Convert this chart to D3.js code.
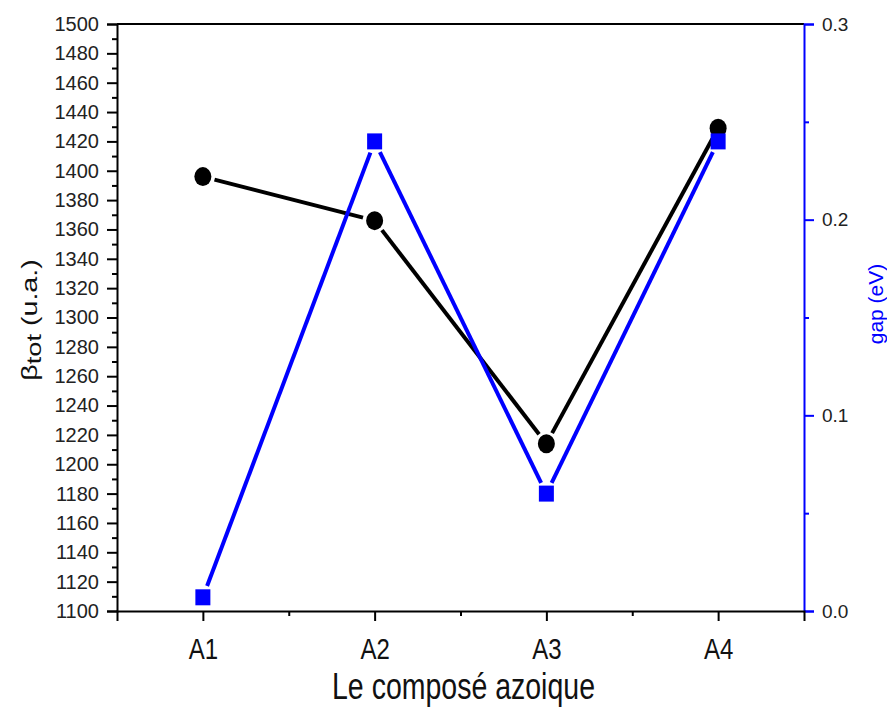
<!DOCTYPE html>
<html>
<head>
<meta charset="utf-8">
<script src="https://cdn.jsdelivr.net/npm/d3@7"></script>
<style>
  body { margin: 0; background: #fff; }
  svg { font-family: "Liberation Sans", Arial, sans-serif; }
</style>
</head>
<body>
<div id="chart"></div>
<script>
// data
const compounds = ["A1", "A2", "A3", "A4"];
const betaTot = [1396, 1366, 1214, 1429];
const gapEv = [0.007, 0.24, 0.06, 0.24];
const betaTicks = d3.range(1100, 1501, 20);
const betaMinor = d3.range(1110, 1500, 20);
const gapTicks = [0, 0.1, 0.2, 0.3];
const gapMinor = [0.05, 0.15, 0.25];
const xMinor = [1.5, 2.5, 3.5];

const width = 887, height = 715;
const margin = { top: 24, right: 83, bottom: 104, left: 117 };
const innerW = width - margin.left - margin.right;
const innerH = height - margin.top - margin.bottom;

const svg = d3.select("#chart").append("svg")
    .attr("width", width)
    .attr("height", height);

const g = svg.append("g")
    .attr("transform", `translate(${margin.left}, ${margin.top})`);

const x = d3.scaleLinear().domain([0.5, compounds.length + 0.5]).range([0, innerW]);
const yL = d3.scaleLinear().domain([1100, 1500]).range([innerH, 0]);
const yR = d3.scaleLinear().domain([0, 0.3]).range([innerH, 0]);

const blue = "#0000ff";

// top frame line
g.append("line")
    .attr("x1", 0).attr("x2", innerW)
    .attr("y1", 0).attr("y2", 0)
    .attr("stroke", "#000").attr("stroke-width", 2);

// left axis
const yAxisL = g.append("g").attr("class", "y-axis-left")
    .call(d3.axisLeft(yL).tickValues(betaTicks).tickSize(10).tickPadding(8).tickFormat(d3.format("d")));
yAxisL.append("g")
    .call(d3.axisLeft(yL).tickValues(betaMinor).tickSize(5).tickFormat(""))
    .call((s) => s.selectAll("text").remove())
    .select(".domain").remove();
yAxisL.selectAll(".domain").attr("stroke-width", 2);
yAxisL.selectAll(".tick line").attr("stroke-width", 2);
yAxisL.selectAll(".tick text")
    .attr("fill", "#222")
    .style("font-size", "20px");

// right axis
const yAxisR = g.append("g").attr("class", "y-axis-right")
    .attr("transform", `translate(${innerW}, 0)`)
    .call(d3.axisRight(yR).tickValues(gapTicks).tickSize(10).tickPadding(8).tickFormat(d3.format(".1f")));
yAxisR.append("g")
    .call(d3.axisRight(yR).tickValues(gapMinor).tickSize(5).tickFormat(""))
    .call((s) => s.selectAll("text").remove())
    .select(".domain").remove();
yAxisR.selectAll(".domain").attr("stroke", blue).attr("stroke-width", 2);
yAxisR.selectAll(".tick line").attr("stroke", blue).attr("stroke-width", 2);
yAxisR.selectAll(".tick text")
    .attr("fill", "#222")
    .style("font-size", "19px");

// bottom axis
const xAxis = g.append("g").attr("class", "x-axis")
    .attr("transform", `translate(0, ${innerH})`)
    .call(d3.axisBottom(x).tickValues(d3.range(1, compounds.length + 1)).tickSize(10)
        .tickFormat((d) => compounds[d - 1]));
xAxis.append("g")
    .call(d3.axisBottom(x).tickValues(xMinor).tickSize(5).tickFormat(""))
    .call((s) => s.selectAll("text").remove())
    .select(".domain").remove();
xAxis.selectAll(".domain").attr("stroke-width", 2);
xAxis.selectAll(".tick line").attr("stroke-width", 2);
xAxis.selectAll(".tick text")
    .attr("fill", "#111")
    .attr("y", 0)
    .attr("dy", 0)
    .style("font-size", "24px")
    .attr("transform", "translate(0, 48) scale(1, 1.2)");

// axis titles
g.append("text")
    .attr("transform", `translate(${innerW / 2 + 3}, ${innerH + 88}) scale(1, 1.3)`)
    .attr("text-anchor", "middle")
    .style("font-size", "28.5px")
    .attr("fill", "#111")
    .text("Le composé azoique");

const yTitle = g.append("text")
    .attr("transform", `translate(${-80}, ${296}) rotate(-90) scale(1.3, 1)`)
    .attr("text-anchor", "middle")
    .style("font-size", "22px")
    .attr("fill", "#111");
yTitle.append("tspan").text("β");
yTitle.append("tspan").attr("dy", 4).style("font-size", "21px").text("tot");
yTitle.append("tspan").attr("dy", -4).text(" (u.a.)");

g.append("text")
    .attr("transform", `translate(${innerW + 79}, ${280}) rotate(-90)`)
    .attr("text-anchor", "middle")
    .style("font-size", "21px")
    .attr("fill", blue)
    .text("gap (eV)");

// lines with small gaps near the markers, as in the original
function segments(values, yScale, trim) {
    const pts = values.map((v, i) => [x(i + 1), yScale(v)]);
    const segs = [];
    for (let i = 0; i < pts.length - 1; i++) {
        const [x0, y0] = pts[i], [x1, y1] = pts[i + 1];
        const len = Math.hypot(x1 - x0, y1 - y0);
        const ux = (x1 - x0) / len, uy = (y1 - y0) / len;
        segs.push([[x0 + ux * trim, y0 + uy * trim], [x1 - ux * trim, y1 - uy * trim]]);
    }
    return segs;
}

const line = d3.line();

g.selectAll(".beta-line")
    .data(segments(betaTot, yL, 12))
    .join("path")
    .attr("class", "beta-line")
    .attr("d", (d) => line(d))
    .attr("fill", "none")
    .attr("stroke", "#000")
    .attr("stroke-width", 4);

g.selectAll(".beta-dot")
    .data(betaTot)
    .join("ellipse")
    .attr("class", "beta-dot")
    .attr("cx", (d, i) => x(i + 1))
    .attr("cy", (d) => yL(d))
    .attr("rx", 8.5)
    .attr("ry", 9.5)
    .attr("fill", "#000");

g.selectAll(".gap-line")
    .data(segments(gapEv, yR, 12))
    .join("path")
    .attr("class", "gap-line")
    .attr("d", (d) => line(d))
    .attr("fill", "none")
    .attr("stroke", blue)
    .attr("stroke-width", 4);

g.selectAll(".gap-dot")
    .data(gapEv)
    .join("rect")
    .attr("class", "gap-dot")
    .attr("x", (d, i) => x(i + 1) - 7.5)
    .attr("y", (d) => yR(d) - 8)
    .attr("width", 15)
    .attr("height", 16)
    .attr("fill", blue);
</script>
</body>
</html>
